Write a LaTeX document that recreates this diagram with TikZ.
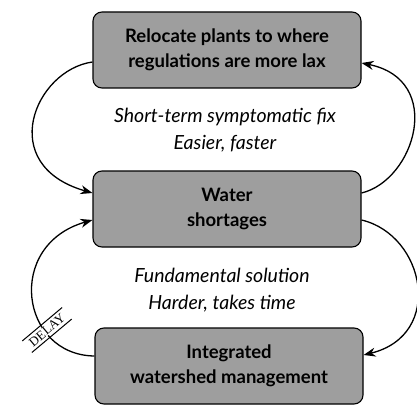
\documentclass[tikz,border=0pt]{standalone}
\usepackage{fontspec}
\setmainfont{Lato}
\newfontfamily\delayfont{Liberation Serif}
\usepackage{xcolor}
\usepackage{tikz}
\usetikzlibrary{arrows.meta}

\begin{document}
\begin{tikzpicture}[x=1pt,y=-1pt,
    box/.style={draw,line width=1.1pt,rounded corners=9pt,fill=black!38,
      minimum width=268pt,minimum height=76pt,align=center,
      font=\bfseries\fontsize{18.5}{25}\selectfont},
    loop/.style={line width=1.3pt,-{Stealth[length=12pt,width=9pt]}},
    note/.style={font=\itshape\fontsize{19.5}{27}\selectfont,align=center}]
    \useasboundingbox (0,0) rectangle (417,406);

    % Boxes
    \node[box] (relocate) at (227,50) {Relocate plants to where\\regulations are more lax};
    \node[box] (water) at (227,209) {Water\\shortages};
    \node[box] (ims) at (229,366) {Integrated\\watershed management};

    % Loop labels
    \node[note] (fix) at (225,130) {Short-term symptomatic fix\\Easier, faster};
    \node[note] (fund) at (222,290) {Fundamental solution\\Harder, takes time};

    % Symptomatic loop
    \draw[loop] ([yshift=-12pt]relocate.west) .. controls (35,70) and (-5,165) .. ([yshift=16pt]water.west);
    \draw[loop] ([yshift=16pt]water.east) .. controls (415,180) and (445,80) .. ([yshift=-13pt]relocate.east);

    % Fundamental loop
    \draw[loop] ([yshift=-11pt]water.east) .. controls (425,235) and (445,335) .. ([yshift=11pt]ims.east);
    \draw[loop] ([yshift=10pt]ims.west) .. controls (20,355) and (5,245) .. ([yshift=-11pt]water.west);

    % Delay mark
    \begin{scope}[shift={(47,330)},y=1pt,rotate=40]
      \node[transform shape,fill=white,inner sep=0.5pt,font=\delayfont\fontsize{13}{13}\selectfont] (delay) at (0,0) {DELAY};
      \draw[line width=1pt] (-26,7.5) -- (26,7.5);
      \draw[line width=1pt] (-26,-7.5) -- (26,-7.5);
    \end{scope}
\end{tikzpicture}
\end{document}
